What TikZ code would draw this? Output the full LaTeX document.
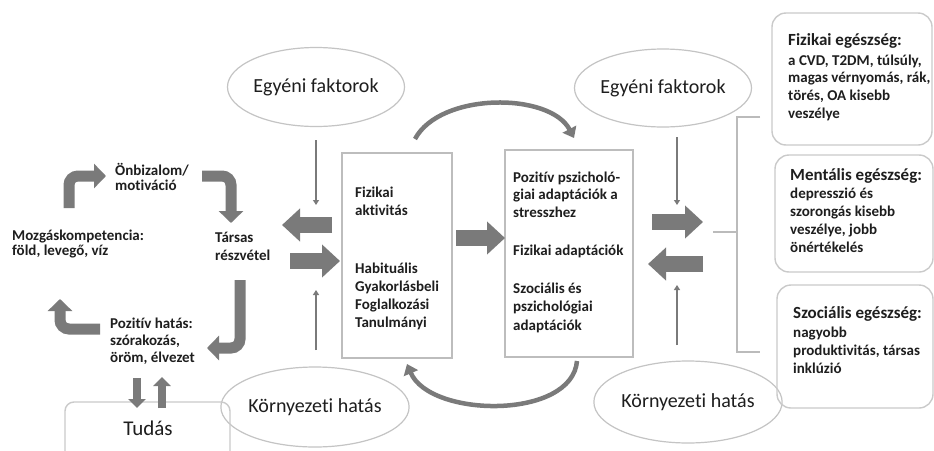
\documentclass[tikz,border=0pt]{standalone}
\usepackage{fontspec}
\setmainfont{Carlito}[Ligatures={NoCommon,NoRequired,NoContextual}]
\usetikzlibrary{arrows.meta,shapes.geometric}
\definecolor{txt}{HTML}{1E1E1E}
\definecolor{arr}{HTML}{7A7A7A}
\definecolor{ell}{HTML}{C4C4C4}
\definecolor{boxc}{HTML}{BDBDBD}
\definecolor{brk}{HTML}{BBBBBB}
\newcommand{\blk}[3]{\fontsize{#1}{#2}\selectfont\begin{tabular}[t]{@{}l@{}}#3\end{tabular}}
\begin{document}
\begin{tikzpicture}[x=1pt,y=-1pt,
  lbl/.style={anchor=base west, inner sep=0pt, text=txt, font=\bfseries},
  ell/.style={ellipse, draw=ell, line width=1.2pt, inner sep=0pt, text=txt, font=\fontsize{20}{22}\selectfont},
  rbox/.style={draw=boxc, line width=1.2pt, inner sep=0pt},
  hbox/.style={draw=boxc!80, line width=1.4pt, rounded corners=14pt, inner sep=0pt},
  bigarr/.style={draw=arr, line width=16pt, -{Triangle[length=18pt,width=32pt]}},
  bendarr/.style={draw=arr, line width=11pt, rounded corners=9pt, -{Triangle[length=12pt,width=24pt]}},
  smallarr/.style={draw=arr, line width=8pt, -{Triangle[length=9pt,width=17pt]}},
  thinarr/.style={draw=arr, line width=2.2pt, -{Triangle[length=5pt,width=6pt]}},
  curvarr/.style={draw=arr, line width=4.5pt, -{Triangle[length=10pt,width=15pt]}},
  brkline/.style={draw=brk, line width=1.5pt}]
\useasboundingbox[fill=white] (0,0) rectangle (934,450);

% ellipses
\node[ell, minimum width=163pt, minimum height=79pt] (e1) at (316,87) {Egyéni faktorok};
\node[ell, minimum width=160pt, minimum height=78pt] (e2) at (663,88) {Egyéni faktorok};
\node[ell, minimum width=164pt, minimum height=80pt] (e3) at (315,407) {Környezeti hatás};
\node[ell, minimum width=160pt, minimum height=82pt] (e4) at (688,402) {Környezeti hatás};

% central rectangles
\node[rbox, minimum width=110pt, minimum height=205pt] (r1) at (397,255.5) {};
\node[rbox, minimum width=128pt, minimum height=207pt] (r2) at (569,253.5) {};

\node[lbl] (t1a) at (355,197) {\blk{15}{18}{Fizikai\\aktivitás}};
\node[lbl] (t1b) at (355,273) {\blk{15}{18}{Habituális\\Gyakorlásbeli\\Foglalkozási\\Tanulmányi}};
\node[lbl] (t2a) at (513,182) {\blk{15}{17.5}{Pozitív pszicholó-\\giai adaptációk a\\stresszhez}};
\node[lbl] (t2b) at (513,255) {\blk{15}{18}{Fizikai adaptációk}};
\node[lbl] (t2c) at (513,293) {\blk{15}{18.5}{Szociális és\\pszichológiai\\adaptációk}};

% left cycle texts
\node[lbl] (ob) at (115,175) {\blk{15}{15}{Önbizalom/\\motiváció}};
\node[lbl] (mk) at (12,240) {\blk{15}{15}{Mozgáskompetencia:\\föld, levegő, víz}};
\node[lbl] (tr) at (215,242) {\blk{15}{18}{Társas\\részvétel}};
\node[lbl] (ph) at (110,328) {\blk{15}{17}{Pozitív hatás:\\szórakozás,\\öröm, élvezet}};

% Tudás box
\node[hbox, rounded corners=9pt, minimum width=165pt, minimum height=58pt] (tu) at (147.5,431) {};
\node[text=txt, font=\fontsize{21}{23}\selectfont, inner sep=0pt] (tut) at (148,428) {Tudás};

% right health boxes
\node[hbox, minimum width=160pt, minimum height=132pt] (b1) at (852,79) {};
\node[hbox, minimum width=158pt, minimum height=117pt] (b2) at (854,213.5) {};
\node[hbox, minimum width=156pt, minimum height=123pt] (b3) at (855,346.5) {};

\node[lbl] (h1) at (788,45) {\fontsize{17}{19}\selectfont Fizikai egészség:};
\node[lbl] (h1b) at (788,65) {\blk{15}{17.7}{a CVD, T2DM, túlsúly,\\magas vérnyomás, rák,\\törés, OA kisebb\\veszélye}};
\node[lbl] (h2) at (790,180) {\fontsize{17}{19}\selectfont Mentális egészség:};
\node[lbl] (h2b) at (790,198) {\blk{15}{18}{depresszió és\\szorongás kisebb\\veszélye, jobb\\önértékelés}};
\node[lbl] (h3) at (793,318) {\fontsize{17}{19}\selectfont Szociális egészség:};
\node[lbl] (h3b) at (793,337) {\blk{15}{18}{nagyobb\\produktivitás, társas\\inklúzió}};

% bracket
\coordinate (bk0) at (713,232);
\coordinate (bkm) at (737,232);
\coordinate (bkt) at (760,117);
\coordinate (bkb) at (760,352);
\draw[brkline] (bk0) -- (bkm);
\draw[brkline] (bkt) -- (bkt -| bkm) -- (bkb -| bkm) -- (bkb);

% big arrows
\coordinate (m1) at (456,238);
\coordinate (m2) at (505,238);
\draw[bigarr] (m1) -- (m2);
\coordinate (la1) at (332,225);
\coordinate (la2) at (282,225);
\draw[bigarr] (la1) -- (la2);
\coordinate (lb1) at (290,261);
\coordinate (lb2) at (340,261);
\draw[bigarr] (lb1) -- (lb2);
\coordinate (ra1) at (652,222);
\coordinate (ra2) at (703,222);
\draw[bigarr] (ra1) -- (ra2);
\coordinate (rb1) at (703,264);
\coordinate (rb2) at (648,264);
\draw[bigarr] (rb1) -- (rb2);

% thin arrows
\coordinate (d1) at (316,205);
\coordinate (u1) at (316,290);
\coordinate (d2) at (677,205);
\coordinate (u2) at (677,285);
\draw[thinarr] (316,140) -- (d1);
\draw[thinarr] (316,350) -- (u1);
\draw[thinarr] (677,137) -- (d2);
\draw[thinarr] (677,345) -- (u2);

% curved arrows
\coordinate (ct1) at (415,139);
\coordinate (ct2) at (574,138);
\draw[curvarr] (ct1) .. controls (440,92) and (550,92) .. (ct2);
\coordinate (cb1) at (577,361);
\coordinate (cb2) at (407,364);
\draw[curvarr] (cb1) .. controls (572,420) and (430,418) .. (cb2);

% bent arrows of the left cycle
\draw[bendarr] (69,208) -- (69,176) -- (106,176);
\draw[bendarr] (202,176) -- (231,176) -- (231,223);
\draw[bendarr] (240,280) -- (240,348) -- (207,348);
\draw[bendarr] (100,329) -- (60,329) -- (60,299);

% small arrows to Tudás
\draw[smallarr] (137,378) -- (137,408);
\draw[smallarr] (162,408) -- (162,377);
\end{tikzpicture}
\end{document}
